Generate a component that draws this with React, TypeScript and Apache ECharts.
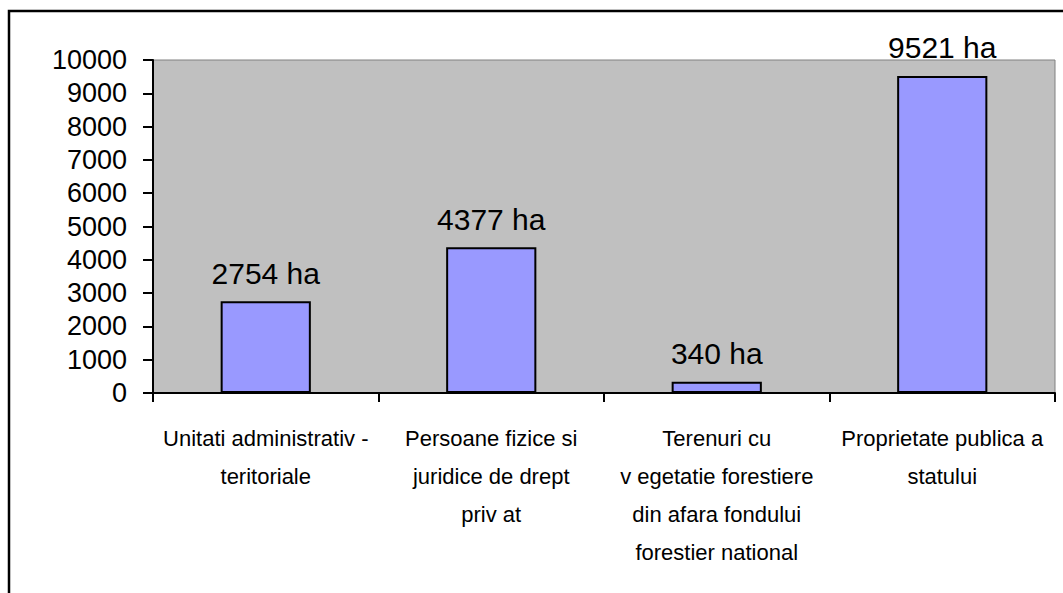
import React, { useEffect, useRef } from 'react';
import * as echarts from 'echarts';

const categories: string[] = [
  'Unitati administrativ -\nteritoriale',
  'Persoane fizice si\njuridice de drept\npriv at',
  'Terenuri cu\nv egetatie forestiere\ndin afara fondului\nforestier national',
  'Proprietate publica a\nstatului',
];
const areaHa: number[] = [2754, 4377, 340, 9521];
const unit = 'ha';
const yMin = 0;
const yMax = 10000;
const yStep = 1000;

const FONT = '"Liberation Sans", Arial, sans-serif';

export default function App() {
  const ref = useRef<HTMLDivElement>(null);
  useEffect(() => {
    if (!ref.current) return;
    const chart = echarts.init(ref.current, null, { renderer: 'svg' });
    chart.setOption({
      animation: false,
      backgroundColor: '#ffffff',
      textStyle: { fontFamily: FONT, color: '#000' },
      graphic: [
        {
          type: 'rect',
          shape: { x: 9, y: 11, width: 1200, height: 800 },
          style: { fill: 'none', stroke: '#000', lineWidth: 2.5 },
          silent: true,
          z: 100,
        },
      ],
      grid: {
        left: 153,
        right: 8,
        top: 60,
        bottom: 200,
        show: true,
        backgroundColor: '#C0C0C0',
        borderColor: '#808080',
        borderWidth: 1,
        containLabel: false,
      },
      xAxis: {
        type: 'category',
        data: categories,
        axisLine: { show: true, lineStyle: { color: '#000', width: 2 } },
        axisTick: { show: true, inside: false, length: 9, alignWithLabel: false, interval: 0, lineStyle: { color: '#000', width: 2 } },
        axisLabel: {
          interval: 0,
          fontFamily: FONT,
          fontSize: 22,
          lineHeight: 38,
          color: '#000',
          margin: 26,
          align: 'center',
        },
        splitLine: { show: false },
      },
      yAxis: {
        type: 'value',
        min: yMin,
        max: yMax,
        interval: yStep,
        axisLine: { show: true, lineStyle: { color: '#000', width: 2 } },
        axisTick: { show: true, inside: false, length: 10, lineStyle: { color: '#000', width: 2 } },
        axisLabel: {
          fontFamily: FONT,
          fontSize: 27,
          color: '#000',
          margin: 26,
          formatter: (v: number) => String(v),
        },
        splitLine: { show: false },
      },
      series: [
        {
          type: 'bar',
          data: areaHa,
          barWidth: '40%',
          itemStyle: { color: '#9999FF', borderColor: '#000', borderWidth: 2 },
          label: {
            show: true,
            position: 'top',
            distance: 13,
            formatter: (p: any) => `${p.value} ${unit}`,
            fontFamily: FONT,
            fontSize: 30,
            color: '#000',
          },
        },
      ],
    });
    return () => chart.dispose();
  }, []);
  return (
    <div
      ref={ref}
      style={{ position: 'fixed', left: 0, top: 0, width: 1063, height: 593, background: '#fff' }}
    />
  );
}
